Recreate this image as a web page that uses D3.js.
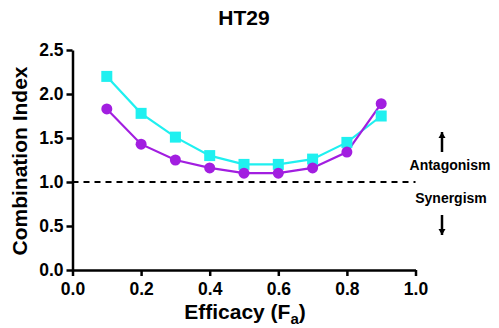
<!DOCTYPE html>
<html><head><meta charset="utf-8">
<script src="https://cdn.jsdelivr.net/npm/d3@7"></script>
<style>body{margin:0;background:#fff}svg{display:block;font-family:"Liberation Sans",Arial,sans-serif}</style>
</head><body><svg id="c" width="499" height="328"></svg>
<script>
const fa = [0.1,0.2,0.3,0.4,0.5,0.6,0.7,0.8,0.9];
const ciCircle = [1.83,1.43,1.25,1.16,1.10,1.10,1.16,1.34,1.89];
const ciSquare = [2.20,1.78,1.51,1.30,1.20,1.20,1.26,1.45,1.75];
const xTicks = [0,0.2,0.4,0.6,0.8,1.0];
const yTicks = [0,0.5,1.0,1.5,2.0,2.5];

const svg = d3.select("#c");
const x = d3.scaleLinear().domain([0,1]).range([72.5,415.5]);
const y = d3.scaleLinear().domain([0,2.5]).range([270,50]);

svg.append("text").attr("x",244).attr("y",25).attr("text-anchor","middle")
  .attr("font-size",21).attr("font-weight","bold").text("HT29");

// dashed reference
svg.append("line").attr("x1",x(0)).attr("x2",x(1)).attr("y1",y(1)).attr("y2",y(1))
  .attr("stroke","#000").attr("stroke-width",2).attr("stroke-dasharray","6,5");

const xa = svg.append("g").attr("transform",`translate(0,${y(0)})`)
  .call(d3.axisBottom(x).tickValues(xTicks).tickFormat(d3.format(".1f")).tickSize(6).tickSizeOuter(0));
const ya = svg.append("g").attr("transform",`translate(${x(0)},0)`)
  .call(d3.axisLeft(y).tickValues(yTicks).tickFormat(d3.format(".1f")).tickSize(6).tickSizeOuter(0));
[xa,ya].forEach(g=>{
  g.select(".domain").attr("stroke","#000").attr("stroke-width",2.5);
  g.selectAll(".tick line").attr("stroke","#000").attr("stroke-width",2.5);
  g.selectAll("text").attr("font-size",17.5).attr("font-weight","bold").attr("fill","#000")
   .attr("font-family","Liberation Sans, Arial, sans-serif");
});
xa.selectAll("text").attr("y",13);
ya.selectAll("text").attr("x",-9);

svg.append("text").attr("transform","translate(27,161) rotate(-90)").attr("text-anchor","middle")
  .attr("font-size",21).attr("font-weight","bold").text("Combination Index");
const xt = svg.append("text").attr("x",245).attr("y",319).attr("text-anchor","middle")
  .attr("font-size",21).attr("font-weight","bold");
xt.append("tspan").text("Efficacy (F");
xt.append("tspan").attr("font-size",15).attr("dy",5).text("a");
xt.append("tspan").attr("dy",-5).text(")");

const line = d3.line().x((d,i)=>x(fa[i])).y(d=>y(d));
const cyan = "#1ff0f0", purple = "#a21ee0";
svg.append("path").datum(ciSquare).attr("d",line).attr("fill","none").attr("stroke",cyan).attr("stroke-width",2.2);
svg.append("path").datum(ciCircle).attr("d",line).attr("fill","none").attr("stroke",purple).attr("stroke-width",2.2);
svg.selectAll(".sq").data(ciSquare).join("rect").attr("x",(d,i)=>x(fa[i])-5.5).attr("y",d=>y(d)-5.5)
  .attr("width",11).attr("height",11).attr("fill",cyan);
svg.selectAll(".ci").data(ciCircle).join("circle").attr("cx",(d,i)=>x(fa[i])).attr("cy",d=>y(d))
  .attr("r",5.5).attr("fill",purple);

// annotations
function arrow(xc,y1,y2){
  svg.append("line").attr("x1",xc).attr("x2",xc).attr("y1",y1).attr("y2",y2).attr("stroke","#000").attr("stroke-width",2.5);
  const d = y2<y1 ? -1 : 1;
  svg.append("path").attr("d",`M${xc-3.5},${y2-d*6}L${xc+3.5},${y2-d*6}L${xc},${y2}Z`).attr("fill","#000");
}
arrow(442,152,132);
arrow(442,215,235);
svg.append("text").attr("x",450).attr("y",170).attr("text-anchor","middle").attr("font-size",14).attr("font-weight","bold").text("Antagonism");
svg.append("text").attr("x",451).attr("y",203).attr("text-anchor","middle").attr("font-size",14).attr("font-weight","bold").text("Synergism");
</script></body></html>
